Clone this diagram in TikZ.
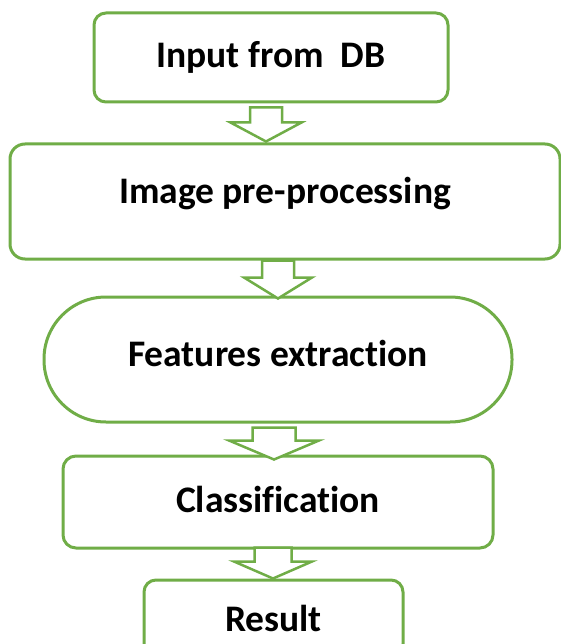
\documentclass[tikz,border=0pt]{standalone}
\usepackage{fontspec}
\setmainfont{Carlito}[Ligatures=NoCommon]
\usetikzlibrary{calc}
\definecolor{flow_green}{RGB}{112, 173, 71}
\tikzstyle{fb}=[rectangle,rounded corners=12pt,draw=flow_green,fill=white,
  line width=3pt,inner sep=0pt,font=\bfseries\fontsize{37.5pt}{40pt}\selectfont]
\tikzstyle{fa}=[draw=flow_green,fill=white,line width=2.5pt,line join=miter]

\begin{document}
\begin{tikzpicture}[x=1pt,y=-1pt]
        \useasboundingbox (0,0) rectangle (561,644);
        \node[style=fb,minimum width=354pt,minimum height=89pt] (in) at (271,57.5) {Input from~~DB};
        \node[style=fb,rounded corners=15pt,minimum width=550pt,minimum height=115pt,text depth=23pt] (pre) at (285,201.5) {Image pre-processing};
        \node[style=fb,rounded corners=62pt,minimum width=468pt,minimum height=125pt,text depth=12pt] (feat) at (278,359.5) {Features extraction};
        \node[style=fb,rounded corners=13pt,minimum width=430pt,minimum height=92pt,text depth=6pt] (cls) at (278,502) {Classification};
        \node[style=fb,minimum width=259pt,minimum height=76pt] (res) at (273.5,618) {Result};
        % hollow arrows: from/to/x/shaft/head/head length/top gap/tip gap
        \foreach \a/\b/\xc/\sw/\hw/\hl/\ta/\tb in {in/pre/266/16/35.5/19/4/-1,
            pre/feat/278/16/34/21/0/3, feat/cls/274/21.5/45/19/4/5, cls/res/273/18.5/39/17/-2/0}
          \draw[style=fa] let \p1=(\a.south), \p2=(\b.north) in
            ({(\xc-\sw)*1pt},{\y1-(\ta)*1pt}) -- ({(\xc+\sw)*1pt},{\y1-(\ta)*1pt})
            -- ({(\xc+\sw)*1pt},{\y2-(\tb)*1pt+(\hl)*1pt}) -- ({(\xc+\hw)*1pt},{\y2-(\tb)*1pt+(\hl)*1pt})
            -- ({\xc*1pt},{\y2-(\tb)*1pt}) -- ({(\xc-\hw)*1pt},{\y2-(\tb)*1pt+(\hl)*1pt})
            -- ({(\xc-\sw)*1pt},{\y2-(\tb)*1pt+(\hl)*1pt}) -- cycle;
    \end{tikzpicture}
\end{document}
